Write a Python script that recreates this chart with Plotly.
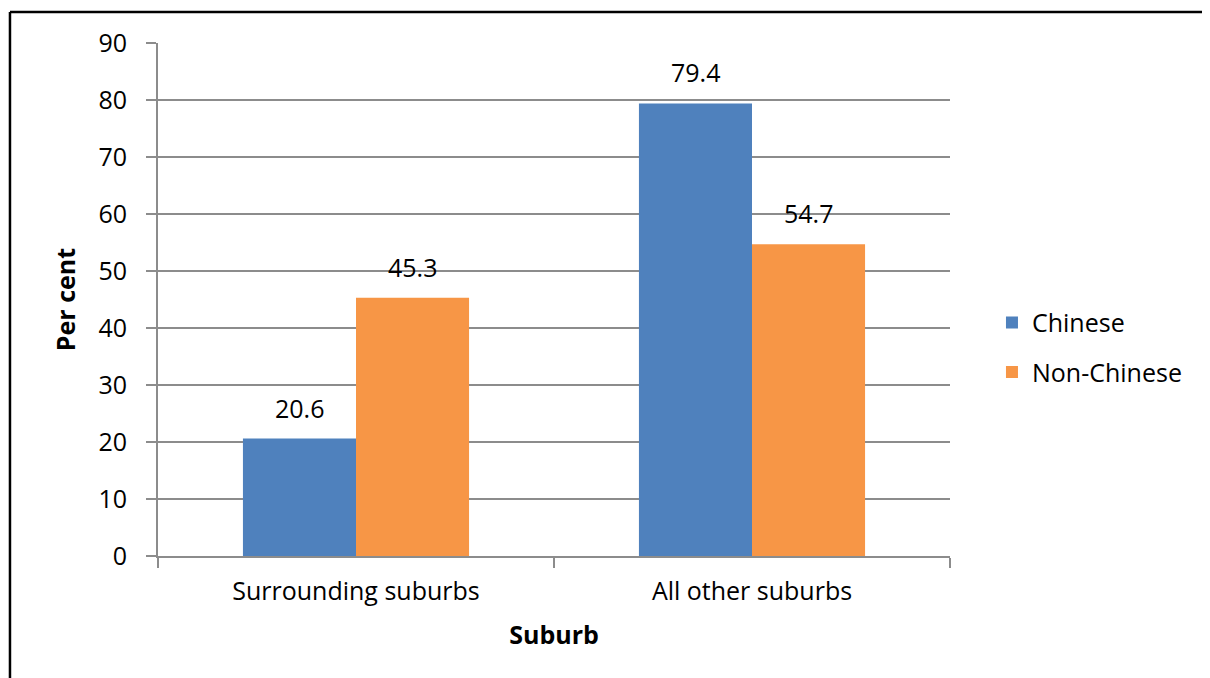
import plotly.graph_objects as go

categories = ["Surrounding suburbs", "All other suburbs"]
chinese = [20.6, 79.4]
non_chinese = [45.3, 54.7]
y_ticks = [0, 10, 20, 30, 40, 50, 60, 70, 80, 90]

FONT = "Open Sans"
FS = 25
GRID = "#8c8c8c"
series = [("Chinese", chinese, "#4f81bd", -56.5), ("Non-Chinese", non_chinese, "#f79646", 56.5)]

fig = go.Figure()
annotations = []
for name, vals, col, dx in series:
    fig.add_trace(go.Bar(name=name, x=categories, y=vals, legendgroup=name,
                         marker=dict(color=col, line=dict(width=0))))
    for c, v in zip(categories, vals):
        annotations.append(dict(x=c, y=v, xref="x", yref="y", text=f"{v:.1f}", showarrow=False,
                                xshift=dx, yshift=12, yanchor="bottom",
                                font=dict(size=FS, family=FONT, color="#000000")))

# body has an 8px margin in the page, so the figure is 8px smaller on each leading side
fig.update_layout(
    width=1202, height=670,
    margin=dict(l=150, r=260, t=35, b=122),
    paper_bgcolor="white", plot_bgcolor="white",
    barmode="group", bargap=0.429, bargroupgap=0,
    font=dict(family=FONT, size=FS, color="#000000"),
    showlegend=True,
    legend=dict(x=1.053, y=0.407, xanchor="left", yanchor="middle", font=dict(size=FS, family=FONT),
                traceorder="grouped", tracegroupgap=14, itemwidth=30, bgcolor="rgba(0,0,0,0)"),
    annotations=annotations,
    xaxis=dict(title=dict(text="<b>Suburb</b>", font=dict(size=FS, family=FONT), standoff=20),
               tickson="boundaries", ticks="outside", ticklen=10, tickcolor=GRID, tickwidth=2,
               ticklabelstandoff=12,
               showline=True, linecolor=GRID, linewidth=2, tickfont=dict(size=FS)),
    yaxis=dict(title=dict(text="<b>Per cent</b>", font=dict(size=FS, family=FONT), standoff=16),
               range=[0, 90], tickvals=y_ticks, ticks="outside", ticklen=10, tickcolor=GRID, tickwidth=2,
               ticklabelstandoff=14,
               showgrid=True, gridcolor=GRID, gridwidth=2,
               showline=True, linecolor=GRID, linewidth=2, tickfont=dict(size=FS), zeroline=False),
    shapes=[
        dict(type="line", xref="paper", yref="paper", x0=-0.1869, x1=-0.1869, y0=1.0604, y1=-0.3,
             line=dict(color="black", width=2.5)),
        dict(type="line", xref="paper", yref="paper", x0=-0.1869, x1=1.4, y0=1.0604, y1=1.0604,
             line=dict(color="black", width=2.5)),
    ],
)
fig.write_html("out.html")
